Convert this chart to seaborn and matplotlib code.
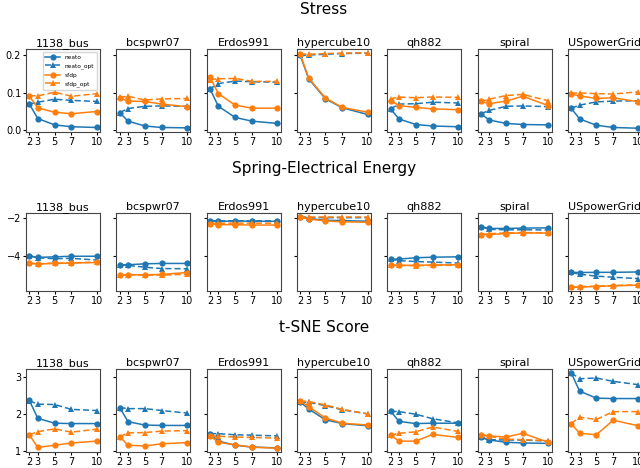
import matplotlib
matplotlib.use("Agg")
import matplotlib.pyplot as plt
from matplotlib.ticker import MultipleLocator
import seaborn as sns
import pandas as pd

graphs = ["1138_bus", "bcspwr07", "Erdos991", "hypercube10", "qh882", "spiral", "USpowerGrid"]
methods = ["neato", "neato_opt", "sfdp", "sfdp_opt"]
dims = [2, 3, 5, 7, 10]

# one list of 5 values (dims 2,3,5,7,10) per graph, in the order of `graphs`
stress = {
    "neato": [[0.069, 0.030, 0.013, 0.008, 0.006], [0.046, 0.023, 0.010, 0.006, 0.005],
              [0.110, 0.063, 0.033, 0.023, 0.017], [0.200, 0.137, 0.083, 0.059, 0.041],
              [0.056, 0.029, 0.014, 0.010, 0.008], [0.043, 0.026, 0.017, 0.014, 0.013],
              [0.058, 0.029, 0.012, 0.006, 0.004]],
    "neato_opt": [[0.069, 0.074, 0.082, 0.079, 0.076], [0.046, 0.057, 0.063, 0.064, 0.063],
                  [0.110, 0.124, 0.131, 0.129, 0.128], [0.200, 0.201, 0.203, 0.205, 0.206],
                  [0.056, 0.069, 0.070, 0.074, 0.072], [0.043, 0.052, 0.063, 0.064, 0.062],
                  [0.058, 0.066, 0.075, 0.077, 0.078]],
    "sfdp": [[0.090, 0.059, 0.047, 0.043, 0.049], [0.086, 0.077, 0.076, 0.069, 0.062],
             [0.142, 0.097, 0.066, 0.058, 0.058], [0.203, 0.139, 0.085, 0.060, 0.047],
             [0.078, 0.065, 0.060, 0.056, 0.054], [0.076, 0.070, 0.077, 0.090, 0.065],
             [0.096, 0.091, 0.084, 0.086, 0.075]],
    "sfdp_opt": [[0.092, 0.091, 0.101, 0.090, 0.097], [0.087, 0.090, 0.080, 0.083, 0.084],
                 [0.135, 0.137, 0.138, 0.130, 0.130], [0.204, 0.203, 0.205, 0.206, 0.207],
                 [0.083, 0.088, 0.086, 0.088, 0.087], [0.076, 0.082, 0.092, 0.095, 0.078],
                 [0.098, 0.099, 0.097, 0.096, 0.102]],
}

energy = {
    "neato": [[-4.00, -4.08, -4.05, -4.02, -4.02], [-4.47, -4.47, -4.42, -4.40, -4.40],
              [-2.13, -2.18, -2.15, -2.17, -2.17], [-1.92, -2.03, -2.12, -2.13, -2.17],
              [-4.17, -4.17, -4.10, -4.07, -4.05], [-2.45, -2.55, -2.55, -2.53, -2.52],
              [-4.87, -4.88, -4.87, -4.87, -4.85]],
    "neato_opt": [[-4.00, -4.10, -4.15, -4.13, -4.22], [-4.47, -4.50, -4.60, -4.67, -4.68],
                  [-2.13, -2.15, -2.15, -2.15, -2.15], [-1.92, -1.98, -1.98, -1.98, -1.98],
                  [-4.17, -4.25, -4.30, -4.33, -4.38], [-2.45, -2.60, -2.62, -2.62, -2.63],
                  [-4.87, -4.97, -5.07, -5.13, -5.20]],
    "sfdp": [[-4.38, -4.43, -4.40, -4.38, -4.35], [-5.02, -5.00, -5.00, -4.98, -4.88],
             [-2.30, -2.35, -2.35, -2.37, -2.37], [-1.97, -2.05, -2.15, -2.20, -2.22],
             [-4.50, -4.50, -4.50, -4.48, -4.47], [-2.87, -2.87, -2.82, -2.78, -2.80],
             [-5.67, -5.65, -5.62, -5.58, -5.55]],
    "sfdp_opt": [[-4.38, -4.42, -4.38, -4.37, -4.33], [-5.02, -5.00, -5.02, -5.02, -4.97],
                 [-2.30, -2.27, -2.27, -2.27, -2.27], [-1.97, -1.97, -1.97, -1.97, -1.97],
                 [-4.50, -4.50, -4.52, -4.50, -4.50], [-2.87, -2.83, -2.78, -2.77, -2.78],
                 [-5.67, -5.63, -5.60, -5.57, -5.53]],
}

tsne = {
    "neato": [[2.36, 1.88, 1.75, 1.74, 1.74], [2.17, 1.79, 1.70, 1.69, 1.69],
              [1.47, 1.27, 1.16, 1.11, 1.09], [2.32, 2.13, 1.84, 1.74, 1.68],
              [2.07, 1.80, 1.74, 1.75, 1.75], [1.37, 1.30, 1.24, 1.22, 1.21],
              [3.10, 2.61, 2.42, 2.41, 2.41]],
    "neato_opt": [[2.35, 2.26, 2.25, 2.12, 2.09], [2.17, 2.14, 2.14, 2.09, 2.02],
                  [1.47, 1.47, 1.44, 1.43, 1.41], [2.32, 2.31, 2.22, 2.11, 2.00],
                  [2.07, 2.06, 1.99, 1.87, 1.76], [1.37, 1.31, 1.30, 1.30, 1.27],
                  [3.10, 2.94, 2.96, 2.87, 2.78]],
    "sfdp": [[1.44, 1.10, 1.16, 1.22, 1.27], [1.39, 1.16, 1.14, 1.20, 1.23],
             [1.41, 1.24, 1.17, 1.11, 1.08], [2.35, 2.19, 1.89, 1.75, 1.70],
             [1.43, 1.27, 1.27, 1.45, 1.37], [1.44, 1.41, 1.38, 1.48, 1.24],
             [1.74, 1.48, 1.44, 1.83, 1.68]],
    "sfdp_opt": [[1.44, 1.52, 1.60, 1.51, 1.59], [1.39, 1.49, 1.50, 1.54, 1.55],
                 [1.41, 1.40, 1.38, 1.37, 1.35], [2.35, 2.33, 2.24, 2.12, 2.00],
                 [1.43, 1.48, 1.52, 1.65, 1.53], [1.44, 1.40, 1.32, 1.31, 1.28],
                 [1.74, 1.91, 1.85, 2.06, 2.06]],
}

row_titles = ["Stress", "Spring-Electrical Energy", "t-SNE Score"]
row_data = [stress, energy, tsne]
row_ticks = [0.1, 2, 1]


def to_frame(metric):
    rows = []
    for m in methods:
        for g, vals in zip(graphs, metric[m]):
            for d, v in zip(dims, vals):
                rows.append({"graph": g, "method": m, "dim": d, "value": v})
    return pd.DataFrame(rows)


palette = {"neato": "#1f77b4", "neato_opt": "#1f77b4", "sfdp": "#ff7f0e", "sfdp_opt": "#ff7f0e"}
markers = {"neato": "o", "neato_opt": "^", "sfdp": "o", "sfdp_opt": "^"}
dashes = {"neato": "", "neato_opt": (4, 2), "sfdp": "", "sfdp_opt": (4, 2)}

fig = plt.figure(figsize=(6.4, 4.68), dpi=100)
W, H = 640, 468
row_pix = [(49, 132), (213, 291), (369, 452)]
title_y = [9, 168, 328]

for r in range(3):
    df = to_frame(row_data[r])
    top, bottom = row_pix[r]
    first = None
    for i, g in enumerate(graphs):
        left = 26 + 90.3 * i
        ax = fig.add_axes([left / W, (H - bottom) / H, 74 / W, (bottom - top) / H],
                          sharey=first)
        if first is None:
            first = ax
        sub = df[df["graph"] == g]
        sns.lineplot(data=sub, x="dim", y="value", hue="method", style="method",
                     hue_order=methods, style_order=methods, palette=palette,
                     markers=markers, dashes=dashes, markersize=4.5, linewidth=1.1,
                     markeredgewidth=0, ax=ax, legend=(r == 0 and i == 0))
        ax.set_title(g, fontsize=8, pad=2)
        ax.set_xlabel("")
        ax.set_ylabel("")
        ax.set_xticks(dims)
        ax.yaxis.set_major_locator(MultipleLocator(row_ticks[r]))
        ax.tick_params(labelsize=7, length=2.5, pad=1)
        for s in ax.spines.values():
            s.set_color("#444444")
        if i > 0:
            ax.tick_params(labelleft=False)
        if ax.get_legend() is not None:
            leg = ax.legend(loc="upper right", fontsize=4.2, frameon=True,
                            handlelength=2.5, borderpad=0.5, labelspacing=0.6)
            leg.set_title(None)
    fig.text(324 / W, 1 - title_y[r] / H, row_titles[r], ha="center", va="center",
             fontsize=11)

fig.savefig("out.png", dpi=100)
